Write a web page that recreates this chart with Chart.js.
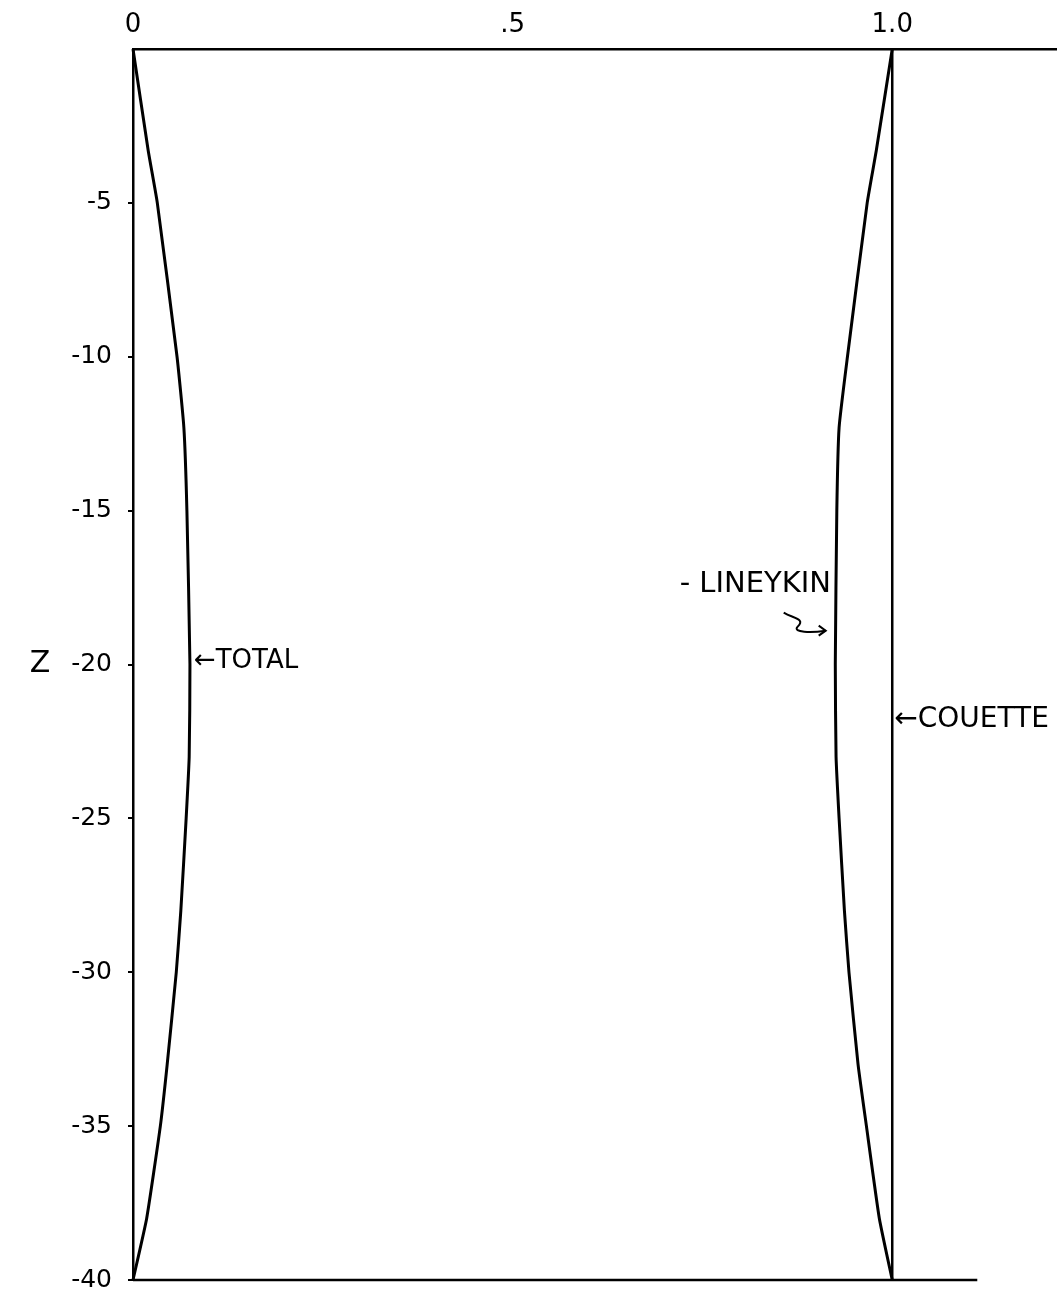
<!DOCTYPE html>
<html>
<head>
<meta charset="utf-8">
<script src="https://cdn.jsdelivr.net/npm/chart.js@4/dist/chart.umd.min.js"></script>
<style>
  body { margin: 0; background: #fff; }
  #wrap { width: 1057px; height: 1295px; position: relative; }
</style>
</head>
<body>
<div id="wrap"><canvas id="profile"></canvas></div>
<script>
// depth levels (z) and velocity profiles
const zLevels = [0, -3.3, -5, -10, -12.3, -15, -20, -23, -25, -28, -30, -33, -35, -38, -40];
const totalVel = [0, 0.020, 0.032, 0.058, 0.067, 0.071, 0.075, 0.074, 0.070, 0.063, 0.057, 0.045, 0.036, 0.018, 0];
const lineykinVel = [1.0, 0.979, 0.967, 0.941, 0.930, 0.927, 0.925, 0.926, 0.930, 0.937, 0.943, 0.955, 0.966, 0.983, 1.0];
const couetteZ = [0, -40];
const couetteVel = [1.0, 1.0];
const baseLineVel = [0, 1.112];

const xTicks = [0, 0.5, 1.0];
const xTickLabels = ["0", ".5", "1.0"];
const zTicks = [-5, -10, -15, -20, -25, -30, -35, -40];

const ink = "#000";
const handFont = "'DejaVu Sans', sans-serif";

function pts(xs, ys) {
  return xs.map((x, i) => ({ x: x, y: ys[i] }));
}

const notes = {
  id: "notes",
  afterDatasetsDraw(chart) {
    const { ctx, scales: { x, y } } = chart;
    ctx.save();
    ctx.fillStyle = ink;
    ctx.strokeStyle = ink;
    ctx.textBaseline = "middle";

    ctx.font = "30px " + handFont;
    ctx.textAlign = "center";
    ctx.fillText("Z", 40, y.getPixelForValue(-20));

    ctx.textAlign = "left";
    ctx.font = "26px " + handFont;
    ctx.fillText("\u2190TOTAL", x.getPixelForValue(0.075) + 4, y.getPixelForValue(-19.9));

    ctx.font = "28px " + handFont;
    ctx.fillText("\u2190COUETTE", x.getPixelForValue(1.0) + 2, y.getPixelForValue(-21.8));
    ctx.font = "29px " + handFont;
    ctx.fillText("- LINEYKIN", x.getPixelForValue(0.72), y.getPixelForValue(-17.4));

    // squiggle arrow pointing at the Lineykin curve
    const ax = x.getPixelForValue(0.915);
    const ay = y.getPixelForValue(-18.9);
    ctx.lineWidth = 2;
    ctx.beginPath();
    ctx.moveTo(ax - 44, ay - 18);
    ctx.bezierCurveTo(ax - 34, ay - 12, ax - 22, ay - 12, ax - 30, ay - 4);
    ctx.bezierCurveTo(ax - 36, ay + 2, ax - 16, ay + 2, ax - 2, ay);
    ctx.stroke();
    ctx.beginPath();
    ctx.moveTo(ax - 9, ay - 5);
    ctx.lineTo(ax - 2, ay);
    ctx.lineTo(ax - 9, ay + 5);
    ctx.stroke();
    ctx.restore();
  }
};

new Chart(document.getElementById("profile"), {
  type: "line",
  data: {
    datasets: [
      {
        label: "TOTAL",
        data: pts(totalVel, zLevels),
        borderColor: ink,
        borderWidth: 3,
        tension: 0.15,
        pointRadius: 0,
        clip: false,
      },
      {
        label: "LINEYKIN",
        data: pts(lineykinVel, zLevels),
        borderColor: ink,
        borderWidth: 3,
        tension: 0.15,
        pointRadius: 0,
        clip: false,
      },
      {
        label: "COUETTE",
        data: pts(couetteVel, couetteZ),
        borderColor: ink,
        borderWidth: 2.5,
        pointRadius: 0,
        clip: false,
      },
      {
        label: "base",
        data: pts(baseLineVel, [-40, -40]),
        borderColor: ink,
        borderWidth: 2.5,
        pointRadius: 0,
        clip: false,
      },
    ],
  },
  options: {
    responsive: true,
    maintainAspectRatio: false,
    animation: false,
    layout: { padding: { top: 0, left: 0, right: 0, bottom: 15 } },
    plugins: {
      legend: { display: false },
      tooltip: { enabled: false },
    },
    scales: {
      x: {
        type: "linear",
        position: "top",
        min: 0,
        max: 1.217,
        afterBuildTicks: (s) => {
          s.ticks = xTicks.map((v) => ({ value: v }));
        },
        afterFit: (s) => {
          s.height = 49;
          s.paddingLeft = 0;
          s.paddingRight = 0;
        },
        ticks: {
          callback: (v, i) => xTickLabels[i],
          color: ink,
          padding: 0,
          maxRotation: 0,
          font: { family: handFont, size: 26 },
        },
        grid: { display: false },
        border: { display: true, color: ink, width: 2.5 },
      },
      y: {
        type: "linear",
        min: -40,
        max: 0,
        afterBuildTicks: (s) => {
          s.ticks = zTicks.map((v) => ({ value: v }));
        },
        afterFit: (s) => {
          s.width = 133;
          s.paddingTop = 0;
          s.paddingBottom = 0;
        },
        ticks: {
          callback: (v) => String(v),
          color: ink,
          padding: 16,
          font: { family: handFont, size: 25 },
        },
        grid: { drawOnChartArea: false, tickLength: 5, color: ink, lineWidth: 2 },
        border: { display: true, color: ink, width: 2.5 },
      },
    },
  },
  plugins: [notes],
});
</script>
</body>
</html>
